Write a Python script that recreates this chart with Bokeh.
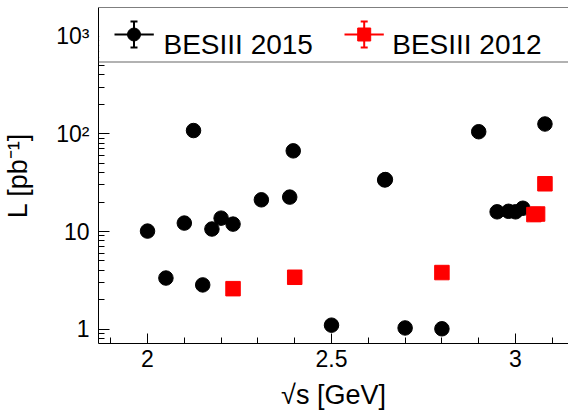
import math
from bokeh.plotting import figure
from bokeh.models import (Range1d, Label, BoxAnnotation, Span, FixedTicker,
                          SingleIntervalTicker, NumeralTickFormatter)
from bokeh.embed import file_html
from bokeh.resources import INLINE

# ---- data ----
sqrt_s_2015 = [2.0, 2.05, 2.1, 2.125, 2.15, 2.175, 2.2, 2.2324, 2.3094, 2.3864,
               2.396, 2.5, 2.6444, 2.6464, 2.7, 2.8, 2.9, 2.95, 2.981, 3.0, 3.02, 3.08]
lumi_2015 = [10.1, 3.34, 12.2, 108, 2.84, 10.6, 13.7, 11.9, 21.1, 22.5,
             66.9, 1.10, 33.7, 34.0, 1.03, 1.01, 105, 15.9, 16.1, 15.9, 17.3, 126]
sqrt_s_2012 = [2.2324, 2.4, 2.8, 3.05, 3.06, 3.08]
lumi_2012 = [2.6, 3.4, 3.8, 14.9, 15.1, 30.8]

y_ticks = [1, 10, 100, 1000]
y_tick_labels = ["1", "10", "10\u00b2", "10\u00b3"]
legend_labels = ["BESIII 2015", "BESIII 2012"]
x_title = "\u221as [GeV]"
y_title = "L [pb\u207b\u00b9]"

# ---- layout ----
X0, X1 = 1.8668, 3.1440
Y0, Y1 = 0.714, 1962.0
FW, FH = 470, 336
ML, MR, MT, MB = 98, 0, 7, 73
FONT = "Liberation Sans"

# page pixel -> data helpers (frame left at x=98, top at y=7)
def px_x(px):
    return X0 + (px - ML) / FW * (X1 - X0)

def px_y(py):
    l0, l1 = math.log10(Y0), math.log10(Y1)
    return 10 ** (l1 - (py - MT) / FH * (l1 - l0))

p = figure(frame_width=FW, frame_height=FH,
           x_range=Range1d(X0, X1), y_range=Range1d(Y0, Y1),
           y_axis_type="log", output_backend="svg", toolbar_location=None,
           min_border_left=ML, min_border_right=MR, min_border_top=MT,
           min_border_bottom=MB)
p.background_fill_color = "white"
p.border_fill_color = "white"
p.outline_line_color = None
p.grid.visible = False

# x axis
xa = p.xaxis[0]
xa.ticker = SingleIntervalTicker(interval=0.5, num_minor_ticks=5)
xa.formatter = NumeralTickFormatter(format="0.[0]")
xa.major_tick_in = 10
xa.major_tick_out = 0
xa.minor_tick_in = 6
xa.minor_tick_out = 0
xa.major_label_standoff = 6
xa.major_label_text_font = FONT
xa.major_label_text_font_size = "23px"
xa.major_label_text_color = "black"
xa.axis_line_color = "black"
xa.major_tick_line_color = "black"
xa.minor_tick_line_color = "black"
xa.axis_label = x_title
xa.axis_label_text_font = FONT
xa.axis_label_text_font_size = "27px"
xa.axis_label_text_font_style = "normal"
xa.axis_label_text_color = "black"
xa.axis_label_standoff = 10

# y axis
ya = p.yaxis[0]
minor = [m * 10 ** k for k in range(-1, 4) for m in range(2, 10)]
ya.ticker = FixedTicker(ticks=y_ticks, minor_ticks=minor)
ya.major_label_overrides = dict(zip(y_ticks, y_tick_labels))
ya.major_tick_in = 11
ya.major_tick_out = 0
ya.minor_tick_in = 6
ya.minor_tick_out = 0
ya.major_label_standoff = 9
ya.major_label_text_font = FONT
ya.major_label_text_font_size = "23px"
ya.major_label_text_color = "black"
ya.axis_line_color = "black"
ya.major_tick_line_color = "black"
ya.minor_tick_line_color = "black"
ya.axis_label = y_title
ya.axis_label_text_font = FONT
ya.axis_label_text_font_size = "27px"
ya.axis_label_text_font_style = "normal"
ya.axis_label_text_color = "black"
ya.axis_label_standoff = 20

# data
p.scatter(sqrt_s_2015, lumi_2015, marker="circle", size=14.5,
          fill_color="black", line_color="black")
p.scatter(sqrt_s_2012, lumi_2012, marker="square", size=14.5,
          fill_color="#ff0000", line_color="#ff0000")

# legend box
leg_bottom = px_y(61.5)
p.add_layout(BoxAnnotation(bottom=leg_bottom, left=px_x(98.6), fill_color="white",
                           fill_alpha=1.0, line_color=None))
p.add_layout(Span(location=leg_bottom, dimension="width", line_color="#666666",
                  line_width=1.2))
p.add_layout(Span(location=Y1, dimension="width", line_color="black", line_width=1.2))

yc = px_y(34)
items = [(133.5, 114, 153.3, 163, "black", "circle"),
         (363.7, 344, 383.3, 391.7, "#ff0000", "square")]
for (cx, l0, l1, tx, col, mk), lab in zip(items, legend_labels):
    p.line([px_x(l0), px_x(l1)], [yc, yc], line_color=col, line_width=2, level="overlay")
    p.segment(x0=[px_x(cx), px_x(cx - 3.5), px_x(cx - 3.5)],
              y0=[px_y(21), px_y(21), px_y(47)],
              x1=[px_x(cx), px_x(cx + 3.5), px_x(cx + 3.5)],
              y1=[px_y(47), px_y(21), px_y(47)],
              line_color=col, line_width=2, level="overlay")
    p.scatter([px_x(cx)], [yc], marker=mk, size=13, fill_color=col,
              line_color=col, level="overlay")
    lbl = Label(x=px_x(tx), y=px_y(44.3), text=lab, text_font=FONT,
                text_font_size="28px", text_color="black",
                text_baseline="alphabetic", text_align="left")
    p.add_layout(lbl)

open("out.html", "w").write(file_html(p, INLINE))
